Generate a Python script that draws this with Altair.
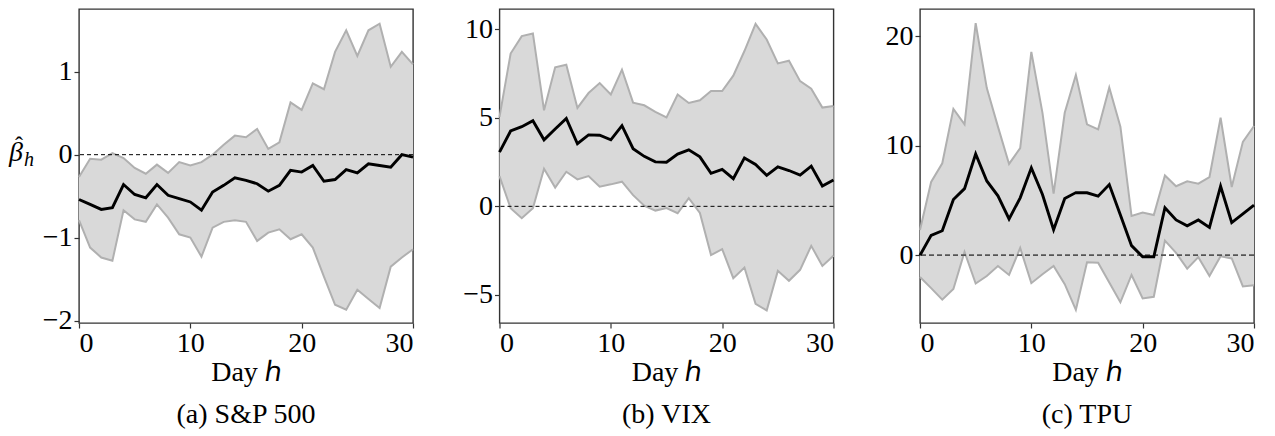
import altair as alt
import pandas as pd

days = list(range(31))

# (a) S&P 500
sp_mean = [-0.54, -0.60, -0.66, -0.64, -0.36, -0.48, -0.52, -0.36, -0.49, -0.53, -0.57, -0.67,
           -0.45, -0.37, -0.28, -0.31, -0.35, -0.44, -0.37, -0.19, -0.21, -0.13, -0.32, -0.30,
           -0.18, -0.22, -0.11, -0.13, -0.15, 0.00, -0.03]
sp_hi = [-0.27, -0.05, -0.06, 0.02, -0.04, -0.16, -0.23, -0.12, -0.22, -0.09, -0.13, -0.09,
         0.00, 0.12, 0.23, 0.21, 0.31, 0.07, 0.15, 0.63, 0.54, 0.86, 0.79, 1.24,
         1.50, 1.19, 1.50, 1.58, 1.06, 1.24, 1.09]
sp_lo = [-0.79, -1.12, -1.24, -1.28, -0.67, -0.78, -0.81, -0.60, -0.76, -0.96, -1.00, -1.23,
         -0.88, -0.81, -0.79, -0.81, -1.04, -0.94, -0.90, -1.02, -0.96, -1.12, -1.47, -1.81,
         -1.87, -1.63, -1.74, -1.85, -1.35, -1.24, -1.14]

# (b) VIX
vix_mean = [3.06, 4.25, 4.49, 4.83, 3.75, 4.36, 4.96, 3.53, 4.03, 4.01, 3.75, 4.55,
            3.25, 2.82, 2.51, 2.49, 2.95, 3.19, 2.79, 1.86, 2.08, 1.56, 2.73, 2.36,
            1.75, 2.23, 2.02, 1.76, 2.27, 1.15, 1.49]
vix_hi = [5.05, 8.62, 9.60, 9.75, 5.42, 7.84, 7.99, 5.55, 6.39, 6.95, 6.31, 7.71,
          5.85, 5.70, 5.33, 5.01, 6.31, 5.83, 5.98, 6.50, 6.50, 7.37, 8.76, 10.29,
          9.41, 8.06, 8.21, 7.06, 6.63, 5.57, 5.66]
vix_lo = [1.70, -0.11, -0.67, -0.11, 2.12, 1.06, 1.95, 1.52, 1.71, 1.11, 1.24, 1.39,
          0.63, 0.04, -0.24, -0.10, -0.39, 0.46, -0.37, -2.75, -2.41, -4.05, -3.45, -5.50,
          -5.87, -3.64, -4.20, -3.58, -2.23, -3.36, -2.79]

# (c) TPU
tpu_mean = [0.0, 1.81, 2.23, 5.09, 6.08, 9.25, 6.78, 5.42, 3.31, 5.24, 7.98, 5.54,
            2.32, 5.18, 5.72, 5.70, 5.39, 6.45, 3.67, 0.87, -0.15, -0.15, 4.34, 3.22,
            2.68, 3.22, 2.53, 6.30, 2.98, 3.77, 4.58]
tpu_hi = [2.3, 6.69, 8.40, 13.37, 11.96, 21.2, 15.27, 11.75, 8.34, 9.79, 18.58, 13.01,
          5.63, 13.01, 16.48, 11.96, 11.5, 15.33, 11.75, 3.58, 3.89, 3.67, 7.29, 6.30,
          6.75, 6.54, 7.14, 12.56, 6.23, 10.36, 11.81]
tpu_lo = [-1.99, -3.01, -4.07, -3.10, 0.30, -2.59, -1.90, -0.99, -1.81, 0.66, -2.56, -1.75,
          -0.99, -2.65, -5.0, -0.65, -0.69, -2.5, -4.31, -1.81, -3.95, -3.80, 1.33, 0.21,
          -1.23, -0.18, -1.90, -0.09, -0.30, -2.86, -2.74]

captions = ["(a) S&P 500", "(b) VIX", "(c) TPU"]
x_ticks = [0, 10, 20, 30]
ylabel_parts = ["β", "ˆ", "h"]

FONT = "Liberation Serif"
FS = 28
W, H = 334, 314


def panel(mean, lo, hi, ydom, yvals, caption, with_ylabel, zero_color, zero_w, zero_dash):
    df = pd.DataFrame({"day": days, "mean": mean, "lo": lo, "hi": hi})
    xenc = alt.X("day:Q", scale=alt.Scale(domain=[0, 30], nice=False, zero=False),
                 axis=alt.Axis(values=x_ticks, title="Day ℎ", format="d", labelPadding=1,
                               titlePadding=1, labelFont=FONT, labelFontSize=FS,
                               titleFont=FONT, titleFontSize=FS))
    yaxis = alt.Axis(title=None, values=yvals, format="d", labelPadding=2,
                     labelFont=FONT, labelFontSize=FS)
    yscale = alt.Scale(domain=ydom, nice=False, zero=False)
    base = alt.Chart(df)
    band = base.mark_area(color="#d9d9d9", opacity=1).encode(
        x=xenc, y=alt.Y("lo:Q", scale=yscale, axis=yaxis), y2="hi:Q")
    lo_line = base.mark_line(color="#b0b0b0", strokeWidth=2).encode(x="day:Q", y="lo:Q")
    hi_line = base.mark_line(color="#b0b0b0", strokeWidth=2).encode(x="day:Q", y="hi:Q")
    zero = alt.Chart(pd.DataFrame({"z": [0]})).mark_rule(
        color=zero_color, strokeWidth=zero_w, strokeDash=zero_dash).encode(y="z:Q")
    mline = base.mark_line(color="black", strokeWidth=2.9).encode(x="day:Q", y="mean:Q")
    layers = [band, lo_line, hi_line, zero, mline]
    if with_ylabel:
        one = alt.Chart(pd.DataFrame({"t": [0]}))
        beta = one.mark_text(text=ylabel_parts[0], font=FONT, fontSize=28, fontStyle="italic",
                             align="left", baseline="alphabetic", color="black").encode(
            x=alt.value(-70), y=alt.value(152))
        hat = one.mark_text(text=ylabel_parts[1], font=FONT, fontSize=24,
                            align="left", baseline="alphabetic", color="black").encode(
            x=alt.value(-64), y=alt.value(144))
        sub = one.mark_text(text=ylabel_parts[2], font=FONT, fontSize=20, fontStyle="italic",
                            align="left", baseline="alphabetic", color="black").encode(
            x=alt.value(-55), y=alt.value(157))
        layers += [beta, hat, sub]
    return alt.layer(*layers).properties(
        width=W, height=H,
        title=alt.TitleParams(caption, orient="bottom", anchor="middle", frame="group",
                              font=FONT, fontSize=FS, fontWeight="normal", offset=15,
                              color="black"))


pa = panel(sp_mean, sp_lo, sp_hi, [-2.03, 1.757], [-2, -1, 0, 1], captions[0], True,
           "black", 1, [4, 3])
pb = panel(vix_mean, vix_lo, vix_hi, [-6.58, 11.13], [-5, 0, 5, 10], captions[1], False,
           "black", 1, [4, 3])
pc = panel(tpu_mean, tpu_lo, tpu_hi, [-6.2, 22.5], [0, 10, 20], captions[2], False,
           "#555555", 1.6, [5, 3])

chart = alt.hconcat(pa, pb, pc, spacing=86.5, bounds="flush").resolve_scale(
    x="independent", y="independent"
).properties(
    padding={"left": 0, "top": 0, "right": 2, "bottom": 0}
).configure_view(stroke="#333333", strokeWidth=1.4).configure_axis(
    grid=False, domain=False, tickColor="#333333", tickSize=5, tickWidth=1.2,
    labelFont=FONT, labelFontSize=FS, labelColor="black",
    titleFont=FONT, titleFontSize=FS, titleFontWeight="normal", titleColor="black"
)

chart.save("out.html", embed_options={"renderer": "svg", "actions": False})
